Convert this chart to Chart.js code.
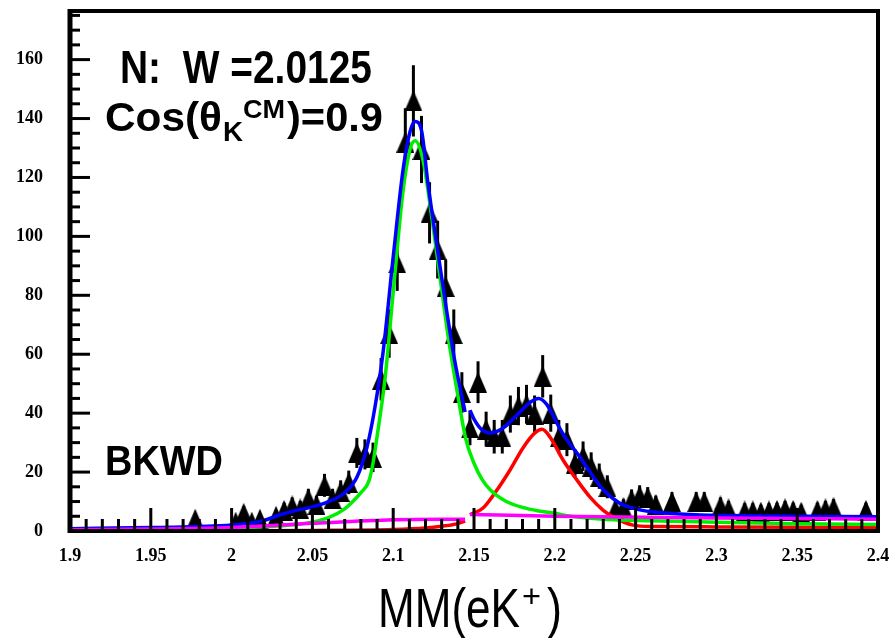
<!DOCTYPE html>
<html>
<head>
<meta charset="utf-8">
<script src="https://cdn.jsdelivr.net/npm/chart.js@4.4.1/dist/chart.umd.min.js"></script>
<style>
  body { margin: 0; background: #fff; }
  canvas { display: block; }
</style>
</head>
<body>
<canvas id="chart" width="891" height="638"></canvas>
<script>
// measured missing-mass bins (GeV), counts and errors
const binMass = [1.9775, 2.0025, 2.0075, 2.0125, 2.0175, 2.0275, 2.0325, 2.0375, 2.0425, 2.0475,
  2.0525, 2.0575, 2.0625, 2.0675, 2.0725, 2.0775, 2.0825, 2.0875, 2.0925, 2.0975,
  2.1025, 2.1075, 2.1125, 2.1175, 2.1225, 2.1275, 2.1325, 2.1375, 2.1425, 2.1475,
  2.1525, 2.1575, 2.1625, 2.1675, 2.1725, 2.1775, 2.1825, 2.1875, 2.1925, 2.1975,
  2.2025, 2.2075, 2.2125, 2.2175, 2.2225, 2.2275, 2.2325, 2.2375, 2.2425, 2.2475,
  2.2525, 2.2575, 2.2625, 2.2725, 2.2875, 2.2925, 2.3025, 2.3075, 2.3175, 2.3225,
  2.3275, 2.3325, 2.3375, 2.3425, 2.3475, 2.3525, 2.3625, 2.3675, 2.3725, 2.3925];
const binCounts = [4, 3, 6, 3, 4, 5, 7, 8.5, 7.5, 11,
  9, 15.5, 11, 13.5, 16.5, 26.5, 26, 25, 51.5, 67,
  91, 132, 146, 129.5, 108, 95.5, 83, 67, 47, 35,
  50.5, 34.6, 32, 32, 39.7, 42.4, 43, 39.7, 52.5, 40,
  32, 31, 23, 25.4, 22, 18.6, 15, 7.5, 8, 10.8,
  12, 11.5, 9, 10, 10, 10, 8.5, 7.5, 6.8, 6.8,
  6.4, 6.8, 7, 7.5, 7, 6.4, 7, 7.5, 8, 7];
const binErrors = [2, 1.7, 2.4, 1.7, 2, 2.2, 2.6, 2.9, 2.7, 3.3,
  3, 3.9, 3.3, 3.7, 4, 5.1, 5.1, 5, 7.2, 8.2,
  9.5, 11.5, 12.1, 11.4, 10.4, 9.8, 9.1, 8.2, 6.9, 5.9,
  7.1, 5.9, 5.7, 5.7, 6.3, 6.5, 6.6, 6.3, 7.2, 6.3,
  5.7, 5.6, 4.8, 5, 4.7, 4.3, 3.9, 2.7, 2.8, 3.3,
  3.5, 3.4, 3, 3.2, 3.2, 3.2, 2.9, 2.7, 2.6, 2.6,
  2.5, 2.6, 2.6, 2.7, 2.6, 2.5, 2.6, 2.7, 2.8, 2.6];

// fit curves (null = break in the drawn curve)
const totalX = [1.9, 1.95, 2.0, 2.02, 2.03, 2.04, 2.05, 2.06, 2.07, 2.0776, 2.0838, 2.0887, 2.0937, 2.1,
  2.1061, 2.1104, 2.1135, 2.1175, 2.1215, 2.127, 2.133, 2.138, 2.1445, 2.146,
  2.1475, 2.15, 2.155, 2.16, 2.165, 2.17, 2.175, 2.18, 2.185, 2.19, 2.195, 2.2, 2.205, 2.21,
  2.215, 2.22, 2.225, 2.23, 2.24, 2.25, 2.26, 2.27, 2.29, 2.33, 2.4];
const totalY = [0.8, 1.2, 2.0, 3.6, 5.5, 7, 8.2, 10, 13, 18.3, 28.5, 42, 60.5, 93,
  122.6, 135.5, 139, 136, 118, 97, 75, 58, 40.4, null,
  41, 38, 34.3, 33.3, 34, 35.8, 38.5, 41.2, 43.8, 45, 43, 38, 33, 29,
  25.5, 21.5, 17.5, 14, 9.5, 7.5, 6.5, 6, 5.4, 5.1, 4.8];

const peak1X = [1.9, 1.95, 2.0, 2.02, 2.04, 2.05, 2.06, 2.07, 2.075, 2.08, 2.085, 2.0875, 2.09, 2.095,
  2.1, 2.106, 2.1104, 2.1135, 2.1184, 2.124, 2.129, 2.134, 2.14, 2.145, 2.15, 2.155, 2.16,
  2.17, 2.18, 2.19, 2.2, 2.21, 2.23, 2.25, 2.3, 2.35, 2.4];
const peak1Y = [0.4, 0.6, 1.0, 1.4, 2.2, 3.0, 4.5, 7.5, 10, 13, 17, 23, 32, 52,
  81, 115, 129.5, 132.5, 126, 106, 86, 66, 46, 31, 23, 17.5, 14,
  10, 8, 6.8, 6, 5, 4, 3.6, 3, 2.5, 2.2];

const peak2X = [1.9, 2.0, 2.05, 2.1, 2.12, 2.13, 2.14, 2.1445, 2.146,
  2.1475, 2.1556, 2.1642, 2.1723, 2.1803, 2.1877, 2.1921, 2.197, 2.2051, 2.2137, 2.2218,
  2.2298, 2.236, 2.2484, 2.26, 2.3, 2.35, 2.4];
const peak2Y = [0, 0.1, 0.2, 0.5, 1, 1.6, 2.5, 3.4, null,
  5.5, 7.8, 13.9, 20.7, 28.2, 33.3, 34.5, 31.9, 24.1, 17.3, 11.5,
  7.1, 4.8, 2, 1.5, 1.4, 1.3, 1.1];

const backgroundX = [1.9, 1.95, 2.0, 2.05, 2.1, 2.13, 2.1445, 2.146, 2.1475, 2.2, 2.3, 2.4];
const backgroundY = [0.4, 0.7, 1.2, 2.6, 3.8, 4.0, 4.0, null, 5.6, 5.0, 4.4, 4.0];

const xTicks = [1.9, 1.95, 2, 2.05, 2.1, 2.15, 2.2, 2.25, 2.3, 2.35, 2.4];
const yTicks = [0, 20, 40, 60, 80, 100, 120, 140, 160];

const xy = (xs, ys) => xs.map((x, i) => ({ x: x, y: ys[i] }));

// filled triangle marker, a little taller than wide
const tri = document.createElement('canvas');
tri.width = 18;
tri.height = 21;
const tc = tri.getContext('2d');
tc.fillStyle = '#000';
tc.beginPath();
tc.moveTo(9, 0);
tc.lineTo(18, 21);
tc.lineTo(0, 21);
tc.closePath();
tc.fill();

// draw text squeezed to a target width
function fitText(ctx, text, x, y, font, width) {
  ctx.save();
  ctx.font = font;
  const w = ctx.measureText(text).width;
  ctx.translate(x, y);
  ctx.scale(width / w, 1);
  ctx.fillText(text, 0, 0);
  ctx.restore();
}

const errorBars = {
  id: 'errorBars',
  beforeDatasetsDraw(chart) {
    const { ctx, scales: { x, y } } = chart;
    ctx.save();
    ctx.strokeStyle = '#000';
    ctx.lineWidth = 3;
    binMass.forEach((m, i) => {
      const px = x.getPixelForValue(m);
      ctx.beginPath();
      ctx.moveTo(px, y.getPixelForValue(binCounts[i] - binErrors[i]));
      ctx.lineTo(px, y.getPixelForValue(binCounts[i] + binErrors[i]));
      ctx.stroke();
    });
    ctx.restore();
  }
};

const frame = {
  id: 'frame',
  afterDraw(chart) {
    const { ctx, chartArea: a, scales: { x, y } } = chart;
    ctx.save();
    ctx.strokeStyle = '#000';
    ctx.lineCap = 'butt';
    // box
    ctx.lineWidth = 4;
    ctx.strokeRect(a.left, a.top, a.right - a.left, a.bottom - a.top);
    ctx.lineWidth = 5;
    ctx.beginPath();
    ctx.moveTo(a.left, a.top - 2); ctx.lineTo(a.left, a.bottom + 2);
    ctx.stroke();
    // inward ticks
    ctx.lineWidth = 3;
    for (let v = 0; v <= 175; v += 5) {
      const py = y.getPixelForValue(v);
      const len = v % 20 === 0 ? 20 : 10;
      ctx.beginPath(); ctx.moveTo(a.left, py); ctx.lineTo(a.left + len, py); ctx.stroke();
    }
    for (let k = 0; k <= 50; k++) {
      const px = x.getPixelForValue(1.9 + k * 0.01);
      const len = k % 5 === 0 ? 23 : 12;
      ctx.beginPath(); ctx.moveTo(px, a.bottom); ctx.lineTo(px, a.bottom - len); ctx.stroke();
    }
    // labels inside the plot
    ctx.fillStyle = '#000';
    ctx.textBaseline = 'alphabetic';
    fitText(ctx, 'N:  W =2.0125', 120, 83, 'bold 46px "Liberation Sans"', 252);
    fitText(ctx, 'Cos(\u03b8', 105, 131, 'bold 41px "Liberation Sans"', 117);
    fitText(ctx, 'K', 223, 141, 'bold 27px "Liberation Sans"', 20);
    fitText(ctx, 'CM', 243, 118, 'bold 26px "Liberation Sans"', 42);
    fitText(ctx, ')=0.9', 287, 131, 'bold 41px "Liberation Sans"', 96);
    fitText(ctx, 'BKWD', 105, 475, 'bold 42px "Liberation Sans"', 118);
    // axis title
    fitText(ctx, 'MM(eK', 378, 627, '56px "Liberation Sans"', 142);
    fitText(ctx, '+', 522, 607, '32px "Liberation Sans"', 19);
    fitText(ctx, ')', 547, 627, '56px "Liberation Sans"', 15);
    ctx.restore();
  }
};

const lineStyle = {
  pointRadius: 0,
  borderWidth: 3.5,
  fill: false,
  spanGaps: false,
  cubicInterpolationMode: 'monotone'
};

new Chart(document.getElementById('chart'), {
  type: 'line',
  data: {
    datasets: [
      { ...lineStyle, label: 'background', data: xy(backgroundX, backgroundY), borderColor: '#ff00ff', order: 0 },
      { ...lineStyle, label: 'total', data: xy(totalX, totalY), borderColor: '#0000ff', order: 1 },
      { ...lineStyle, label: 'peak 1', data: xy(peak1X, peak1Y), borderColor: '#00ee00', order: 2 },
      { ...lineStyle, label: 'peak 2', data: xy(peak2X, peak2Y), borderColor: '#ff0000', order: 3 },
      {
        type: 'scatter', label: 'data', data: xy(binMass, binCounts), order: 4,
        pointStyle: tri, pointRadius: 9, backgroundColor: '#000', borderColor: '#000', showLine: false
      }
    ]
  },
  options: {
    responsive: false,
    animation: false,
    devicePixelRatio: 1,
    layout: { padding: { top: 11, right: 13, left: 0, bottom: 0 } },
    plugins: { legend: { display: false }, tooltip: { enabled: false } },
    scales: {
      x: {
        type: 'linear', min: 1.9, max: 2.4,
        afterBuildTicks: s => { s.ticks = xTicks.map(v => ({ value: v })); },
        afterFit: s => { s.height = 107; s.paddingLeft = 0; s.paddingRight = 0; },
        grid: { display: false, drawTicks: false },
        border: { display: false },
        ticks: {
          padding: 15, color: '#000', autoSkip: false, maxRotation: 0,
          font: { family: 'Liberation Serif', weight: 'bold', size: 18 },
          callback: v => String(v)
        }
      },
      y: {
        type: 'linear', min: 0, max: 176.5,
        afterBuildTicks: s => { s.ticks = yTicks.map(v => ({ value: v })); },
        afterFit: s => { s.width = 70; s.paddingTop = 0; s.paddingBottom = 0; },
        grid: { display: false, drawTicks: false },
        border: { display: false },
        ticks: {
          padding: 27, color: '#000',
          font: { family: 'Liberation Serif', weight: 'bold', size: 18 },
          callback: v => String(v)
        }
      }
    }
  },
  plugins: [errorBars, frame]
});
</script>
</body>
</html>
